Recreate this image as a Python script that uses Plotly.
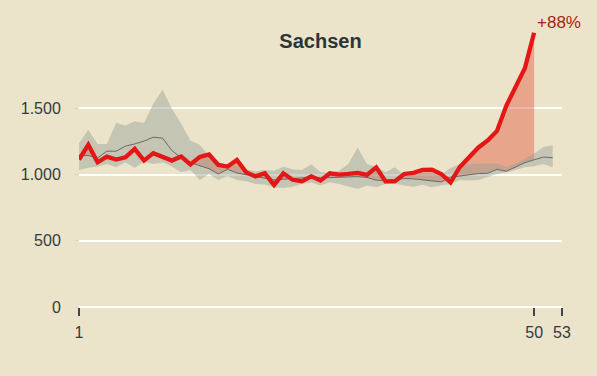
import plotly.graph_objects as go

# ---- data ----
weeks_2020 = list(range(1, 51))
deaths_2020 = [1114, 1225, 1093, 1136, 1114, 1131, 1194, 1106, 1162, 1131,
               1106, 1136, 1077, 1134, 1152, 1073, 1061, 1111, 1017, 987,
               1010, 922, 1010, 962, 949, 987, 955, 1010, 1000, 1005,
               1013, 998, 1055, 949, 949, 1005, 1013, 1036, 1038, 1005,
               941, 1058, 1131, 1205, 1258, 1330, 1520, 1655, 1803, 2072]

weeks_ref = list(range(1, 53))
mean_ref = [1144, 1144, 1126, 1177, 1177, 1215, 1232, 1253, 1283, 1275,
            1182, 1126, 1090, 1068, 1045, 1005, 1040, 1012, 1000, 985,
            975, 960, 965, 970, 975, 980, 975, 978, 982, 980,
            985, 978, 958, 955, 965, 970, 968, 962, 955, 945,
            980, 990, 998, 1008, 1010, 1040, 1025, 1060, 1090, 1112,
            1132, 1128]
upper_ref = [1237, 1338, 1232, 1232, 1389, 1371, 1404, 1389, 1535, 1641,
             1497, 1384, 1258, 1225, 1140, 1090, 1075, 1065, 1040, 1025,
             1035, 1030, 1060, 1040, 1035, 1078, 1020, 1015, 1030, 1080,
             1205, 1080, 1060, 1017, 1055, 995, 1000, 1015, 1010, 1000,
             1050, 1081, 1081, 1081, 1085, 1086, 1057, 1083, 1121, 1159,
             1209, 1222]
lower_ref = [1035, 1051, 1061, 1081, 1056, 1093, 1051, 1098, 1081, 1093,
             1061, 1017, 1035, 960, 1005, 960, 990, 960, 950, 929,
             925, 904, 899, 909, 929, 940, 917, 943, 930, 909,
             891, 917, 904, 930, 934, 917, 909, 924, 904, 917,
             930, 960, 955, 960, 985, 1005, 1017, 1036, 1055, 1063,
             1081, 1055]

title_text = "Sachsen"
change_label = "+88%"
x_tick_vals = [1, 50, 53]
x_tick_text = ["1", "50", "53"]
y_tick_vals = [0, 500, 1000, 1500]
y_tick_text = ["0", "500", "1.000", "1.500"]

# ---- styles ----
BG = "#ece3cb"
FONT = "Arial, Liberation Sans, sans-serif"
TXT = "#333b3f"

excess_top = [max(d, m) for d, m in zip(deaths_2020, mean_ref[:len(deaths_2020)])]

fig = go.Figure()
# excess fill (red above mean)
fig.add_trace(go.Scatter(x=weeks_2020, y=mean_ref[:len(weeks_2020)], mode="lines",
                         line=dict(width=0), hoverinfo="skip", showlegend=False))
fig.add_trace(go.Scatter(x=weeks_2020, y=excess_top, mode="lines",
                         line=dict(width=0), fill="tonexty",
                         fillcolor="rgba(225,80,50,0.42)", hoverinfo="skip",
                         showlegend=False))
# min/max band of earlier years
fig.add_trace(go.Scatter(x=weeks_ref, y=lower_ref, mode="lines",
                         line=dict(width=0), hoverinfo="skip", showlegend=False))
fig.add_trace(go.Scatter(x=weeks_ref, y=upper_ref, mode="lines",
                         line=dict(width=0), fill="tonexty",
                         fillcolor="rgba(150,160,150,0.45)", hoverinfo="skip",
                         showlegend=False))
# mean line
fig.add_trace(go.Scatter(x=weeks_ref, y=mean_ref, mode="lines",
                         line=dict(color="rgb(105,105,105)", width=1),
                         showlegend=False))
# 2020 line
fig.add_trace(go.Scatter(x=weeks_2020, y=deaths_2020, mode="lines",
                         line=dict(color="rgb(228,22,22)", width=4.3),
                         showlegend=False))

fig.add_annotation(x=weeks_2020[-1], y=deaths_2020[-1], text=change_label,
                   showarrow=False, xanchor="left", yanchor="middle",
                   xshift=1, yshift=10,
                   font=dict(family=FONT, size=17, color="rgb(165,35,15)"))

fig.update_layout(
    width=597, height=376,
    paper_bgcolor=BG, plot_bgcolor=BG,
    margin=dict(l=79, r=35, t=29, b=69),
    font=dict(family=FONT, size=16, color=TXT),
    title=dict(text="<b>" + title_text + "</b>", x=0.5, xref="paper",
               y=1 - 41 / 376, yref="container", yanchor="middle",
               xanchor="center",
               font=dict(family=FONT, size=20, color="#2b3538")),
    showlegend=False,
)
fig.update_xaxes(range=[1, 53], tickvals=x_tick_vals, ticktext=x_tick_text,
                 showgrid=False, zeroline=False, showline=False,
                 ticks="outside", ticklen=8, tickwidth=2, tickcolor="#444",
                 ticklabelstandoff=3,
                 tickfont=dict(family=FONT, size=16, color=TXT))
fig.update_yaxes(range=[0, 2100], tickvals=y_tick_vals, ticktext=y_tick_text,
                 showgrid=True, gridcolor="white", gridwidth=2,
                 zeroline=True, zerolinecolor="white", zerolinewidth=2,
                 showline=False, ticks="outside", ticklen=3,
                 tickcolor="#d9d3bf", tickwidth=1,
                 ticklabelstandoff=11,
                 tickfont=dict(family=FONT, size=16, color=TXT))

fig.write_html("out.html",
               config={"displayModeBar": False},
               post_script="document.body.style.margin='0';"
                           "document.body.style.background='" + BG + "';")
